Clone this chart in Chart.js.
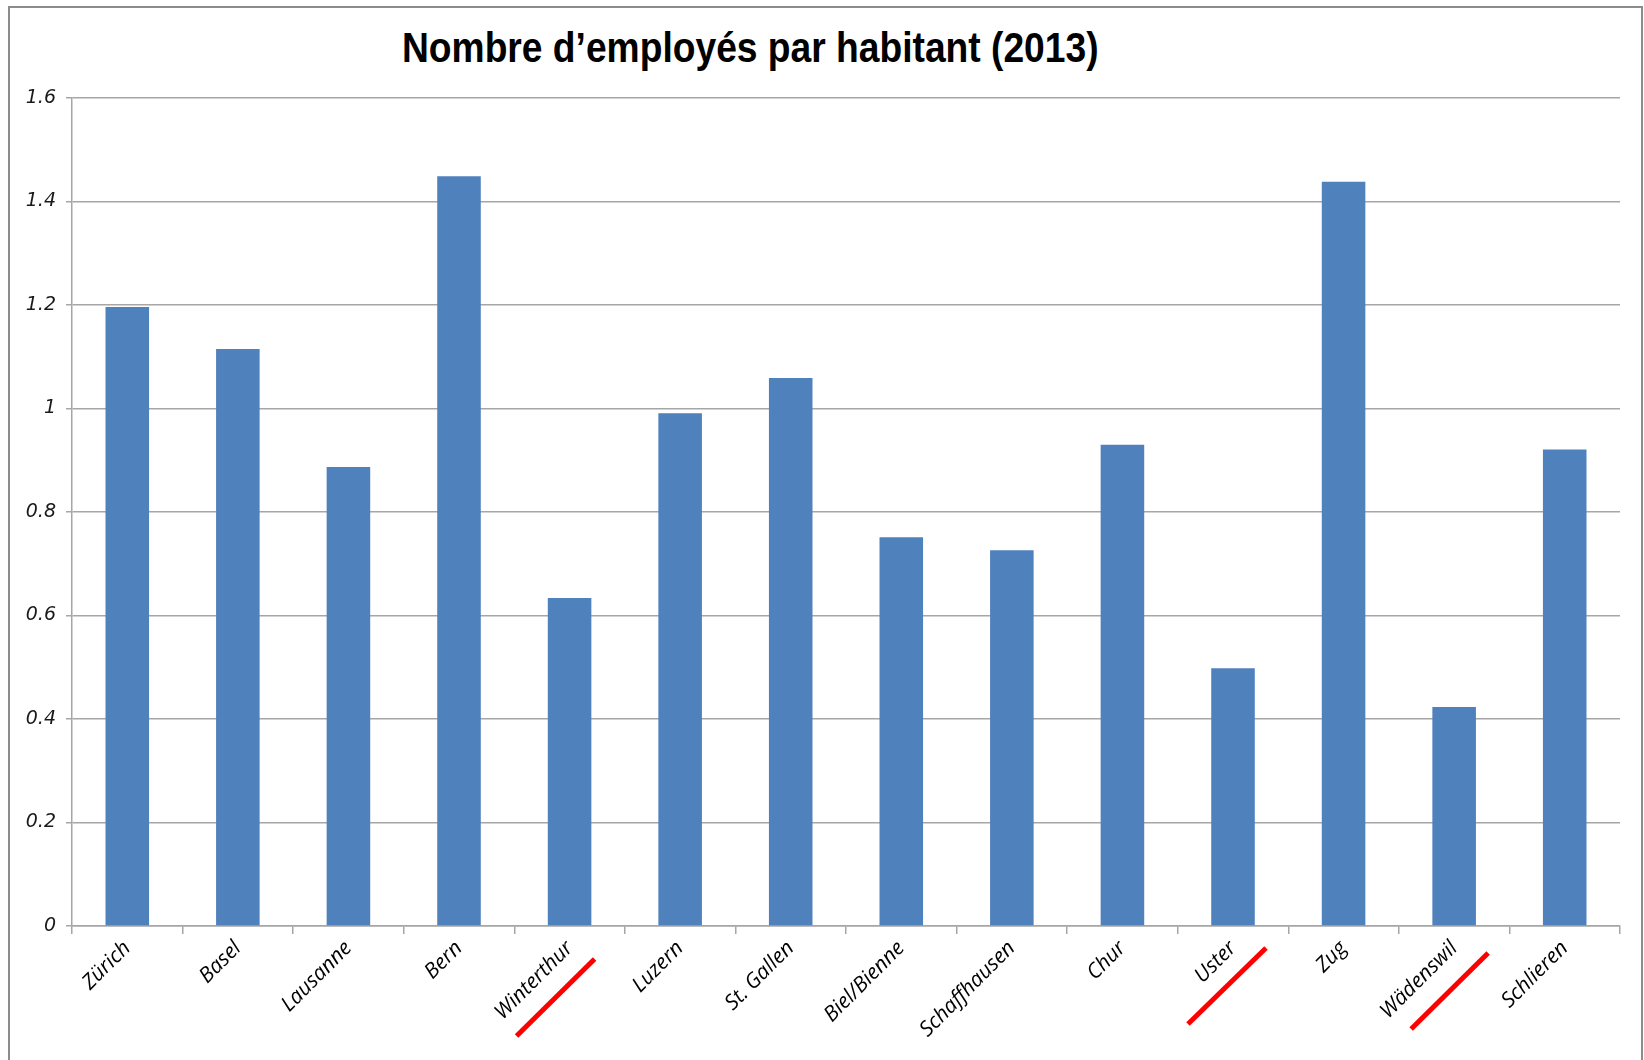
<!DOCTYPE html>
<html>
<head>
<meta charset="utf-8">
<script src="https://cdn.jsdelivr.net/npm/chart.js@4"></script>
<style>
  html, body { margin: 0; padding: 0; background: #fff; overflow: hidden; }
  #frame { position: absolute; left: 8px; top: 6px; width: 1631px; height: 1200px; border: 2px solid #8c8c8c; border-bottom: none; }
  #title { position: absolute; left: 402px; top: 26px; font-family: "Liberation Sans", Arial, sans-serif; font-weight: bold; font-size: 43px; line-height: 1; color: #000; white-space: nowrap; transform: scaleX(0.865); transform-origin: left top; }
  #myChart { position: absolute; left: 0; top: 0; }
</style>
</head>
<body>
<div id="frame"></div>
<div id="title">Nombre d’employés par habitant (2013)</div>
<canvas id="myChart" width="1644" height="1060"></canvas>
<script>
// data
cities = ['Zürich', 'Basel', 'Lausanne', 'Bern', 'Winterthur', 'Luzern', 'St. Gallen', 'Biel/Bienne', 'Schaffhausen', 'Chur', 'Uster', 'Zug', 'Wädenswil', 'Schlieren'];
employes_par_habitant = [1.196, 1.115, 0.887, 1.449, 0.634, 0.991, 1.059, 0.751, 0.726, 0.930, 0.498, 1.438, 0.423, 0.921];
y_tick_labels = ['0', '0.2', '0.4', '0.6', '0.8', '1', '1.2', '1.4', '1.6'];
crossed_out = ['Winterthur', 'Uster', 'Wädenswil'];

// hand drawn red strokes under some labels (offsets from tick centre / axis)
strokes = {
    'Winterthur': [-53, 110, 25, 33],
    'Uster': [-45, 98, 33, 22],
    'Wädenswil': [-43, 103, 34, 27]
}

const red_strokes = {
    id: 'red_strokes',
    afterDraw(chart) {
        const c = chart.ctx;
        const x = chart.scales.x;
        const base = chart.chartArea.bottom;
        c.save();
        c.strokeStyle = '#ff0000';
        c.lineWidth = 5;
        c.lineCap = 'butt';
        crossed_out.forEach((name) => {
            const cx = x.getPixelForValue(cities.indexOf(name));
            const s = strokes[name];
            c.beginPath();
            c.moveTo(cx + s[0], base + s[1]);
            c.lineTo(cx + s[2], base + s[3]);
            c.stroke();
        })
        c.restore();
    }
}

const ctx = document.getElementById('myChart');
const data = {
    labels: cities,
    datasets: [{
        label: null,
        data: employes_par_habitant,
        backgroundColor: '#4f81bd',
        borderWidth: 0,
        categoryPercentage: 1,
        barPercentage: 0.394
    }]
};

const config = {
    type: 'bar',
    data: data,
    options: {
        responsive: false,
        animation: false,
        devicePixelRatio: 1,
        layout: {
            padding: { left: 0, right: 24, top: 98, bottom: 0 }
        },
        scales: {
            y: {
                min: 0,
                max: 1.6,
                afterFit: (scale) => { scale.width = 72 },
                ticks: {
                    stepSize: 0.2,
                    padding: 10,
                    color: '#1a1a1a',
                    font: { family: '"DejaVu Sans"', style: 'italic', size: 19 },
                    callback: (v, i) => y_tick_labels[i]
                },
                grid: { color: '#a6a6a6', lineWidth: 1.5, tickLength: 6 },
                border: { color: '#a6a6a6', width: 1.5 }
            },
            x: {
                afterFit: (scale) => { scale.height = 134 },
                ticks: {
                    minRotation: 45,
                    maxRotation: 45,
                    padding: 2,
                    color: '#000',
                    font: { family: '"Open Sans"', style: 'italic', size: 21 }
                },
                grid: { drawOnChartArea: false, drawTicks: true, tickLength: 8, color: '#a6a6a6', lineWidth: 1.5 },
                border: { color: '#a6a6a6', width: 1.5 }
            }
        },
        plugins: {
            legend: { display: false },
            tooltip: { enabled: false },
            title: { display: false }
        }
    },
    plugins: [red_strokes]
};

chart = new Chart(ctx, config);
</script>
</body>
</html>
